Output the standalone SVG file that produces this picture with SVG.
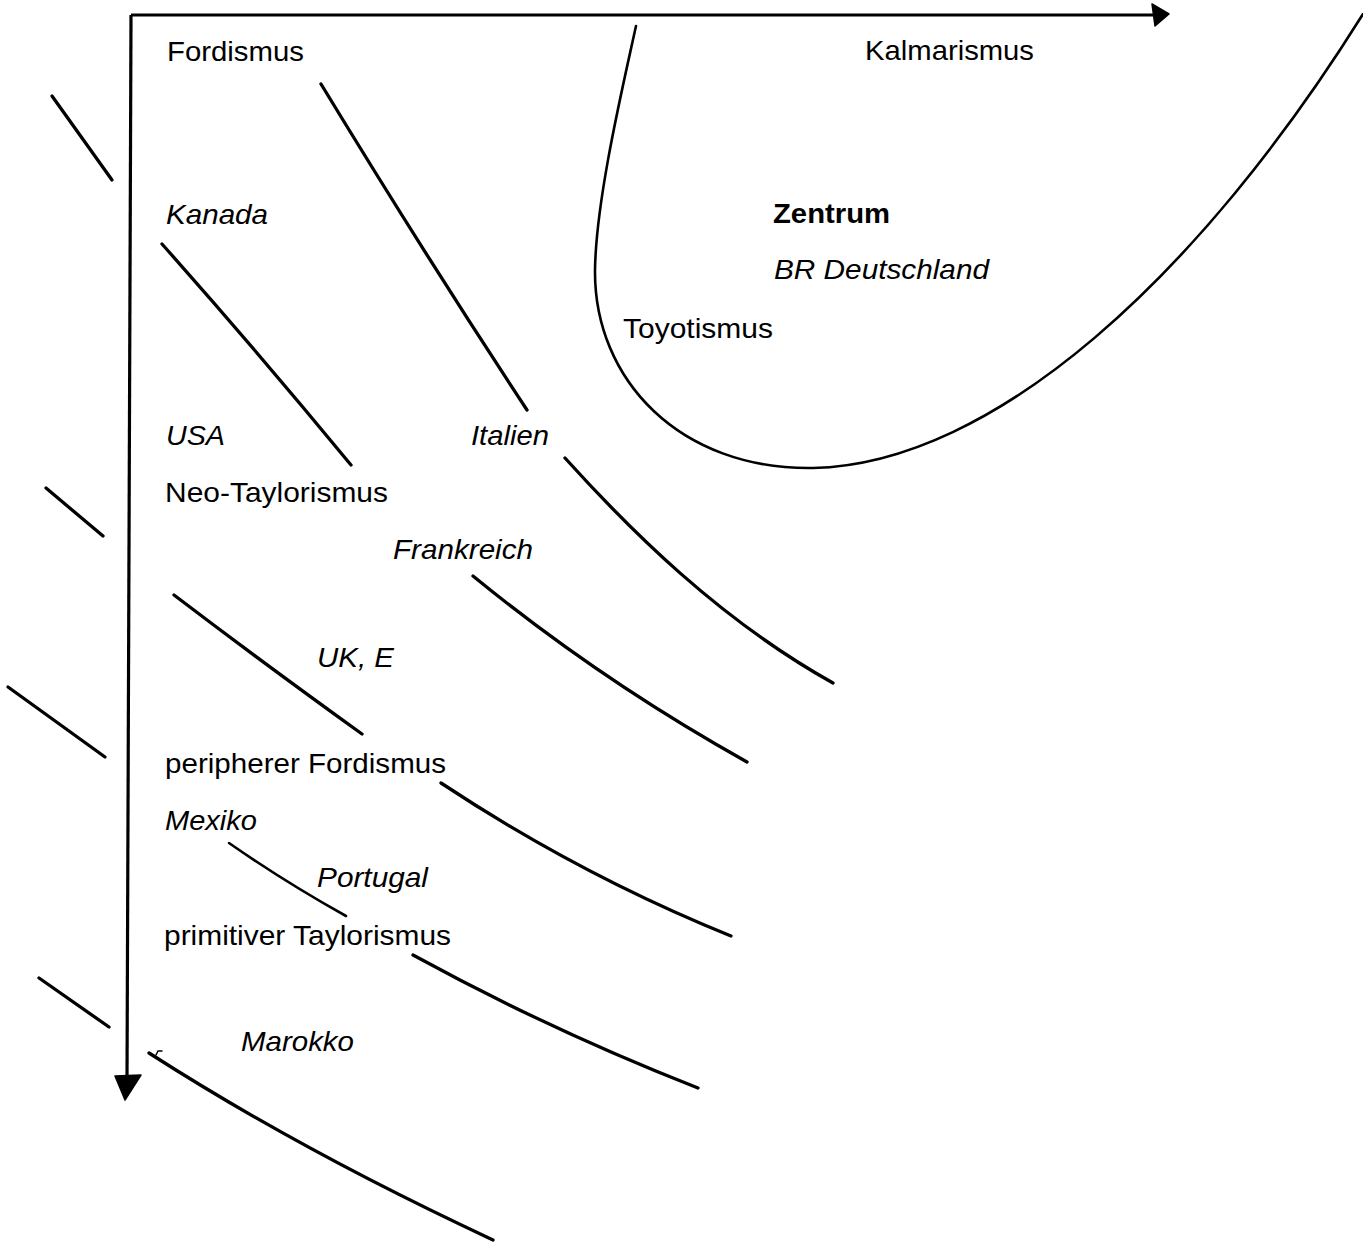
<svg xmlns="http://www.w3.org/2000/svg" width="1363" height="1242" viewBox="0 0 1363 1242">
<style>
  text { font-family: "Liberation Sans", Arial, sans-serif; font-size: 28px; fill: #000; }
  .it { font-style: italic; }
  .bd { font-weight: bold; }
  .ln { fill: none; stroke: #000; stroke-width: 3.3; stroke-linecap: round; }
  .thin { stroke-width: 2.6; }
  .ax { fill: none; stroke: #000; stroke-width: 3.2; }
  .head { fill: #000; stroke: #000; stroke-width: 1.5; stroke-linejoin: round; }
</style>
<rect width="1363" height="1242" fill="#fff"/>

<g id="axes">
  <path class="ax" d="M131,15 L1153,15"/>
  <path class="head" d="M1152,4 L1169,14 L1155,26 Z"/>
  <path class="ax" d="M131,15 L127,1080"/>
  <path class="head" d="M115,1076 L141,1075 L125,1100 Z"/>
</g>

<g id="connectors">
  <path class="ln" d="M52,96 L112,180"/>
  <path class="ln" d="M46,488 L103,536"/>
  <path class="ln" d="M8,687 L105,757"/>
  <path class="ln" d="M39,978 L109,1027"/>

  <path class="ln" d="M162,244 Q258,352 351,465"/>
  <path class="ln" d="M321,84 Q425,255 527,410"/>
  <path class="ln" d="M565,458 C630,530 720,620 833,683"/>
  <path class="ln" d="M473,576 Q600,680 747,762"/>
  <path class="ln" d="M174,595 Q262,662 362,734"/>
  <path class="ln" d="M441,783 Q580,875 731,936"/>
  <path class="ln thin" d="M229,843 Q285,882 346,916"/>
  <path class="ln" d="M413,955 Q550,1030 698,1088"/>
  <path class="ln" d="M149,1053 Q300,1150 493,1240"/>
  <path class="ln" style="stroke-width:1.5" d="M156,1055 L158,1051 L162,1051"/>

  <path class="ln thin" d="M636,26 C622,90 596,200 595,270 C594,380 680,470 813,468 C995,464 1200,275 1363,14"/>
</g>

<g id="label-fordismus"><text x="167" y="61" textLength="137" lengthAdjust="spacingAndGlyphs">Fordismus</text></g>
<g id="label-kalmarismus"><text x="865" y="60" textLength="169" lengthAdjust="spacingAndGlyphs">Kalmarismus</text></g>
<g id="label-kanada"><text class="it" x="166" y="224" textLength="102" lengthAdjust="spacingAndGlyphs">Kanada</text></g>
<g id="label-zentrum"><text class="bd" x="773" y="223" textLength="117" lengthAdjust="spacingAndGlyphs">Zentrum</text></g>
<g id="label-brd"><text class="it" x="774" y="279" textLength="215" lengthAdjust="spacingAndGlyphs">BR Deutschland</text></g>
<g id="label-toyotismus"><text x="623" y="338" textLength="150" lengthAdjust="spacingAndGlyphs">Toyotismus</text></g>
<g id="label-usa"><text class="it" x="166" y="445" textLength="59" lengthAdjust="spacingAndGlyphs">USA</text></g>
<g id="label-italien"><text class="it" x="471" y="445" textLength="78" lengthAdjust="spacingAndGlyphs">Italien</text></g>
<g id="label-neotaylorismus"><text x="165" y="502" textLength="223" lengthAdjust="spacingAndGlyphs">Neo-Taylorismus</text></g>
<g id="label-frankreich"><text class="it" x="393" y="559" textLength="140" lengthAdjust="spacingAndGlyphs">Frankreich</text></g>
<g id="label-uke"><text class="it" x="317" y="667" textLength="77" lengthAdjust="spacingAndGlyphs">UK, E</text></g>
<g id="label-peripherer"><text x="165" y="773" textLength="281" lengthAdjust="spacingAndGlyphs">peripherer Fordismus</text></g>
<g id="label-mexiko"><text class="it" x="165" y="830" textLength="92" lengthAdjust="spacingAndGlyphs">Mexiko</text></g>
<g id="label-portugal"><text class="it" x="317" y="887" textLength="111" lengthAdjust="spacingAndGlyphs">Portugal</text></g>
<g id="label-primitiver"><text x="164" y="945" textLength="287" lengthAdjust="spacingAndGlyphs">primitiver Taylorismus</text></g>
<g id="label-marokko"><text class="it" x="241" y="1051" textLength="113" lengthAdjust="spacingAndGlyphs">Marokko</text></g>
</svg>
